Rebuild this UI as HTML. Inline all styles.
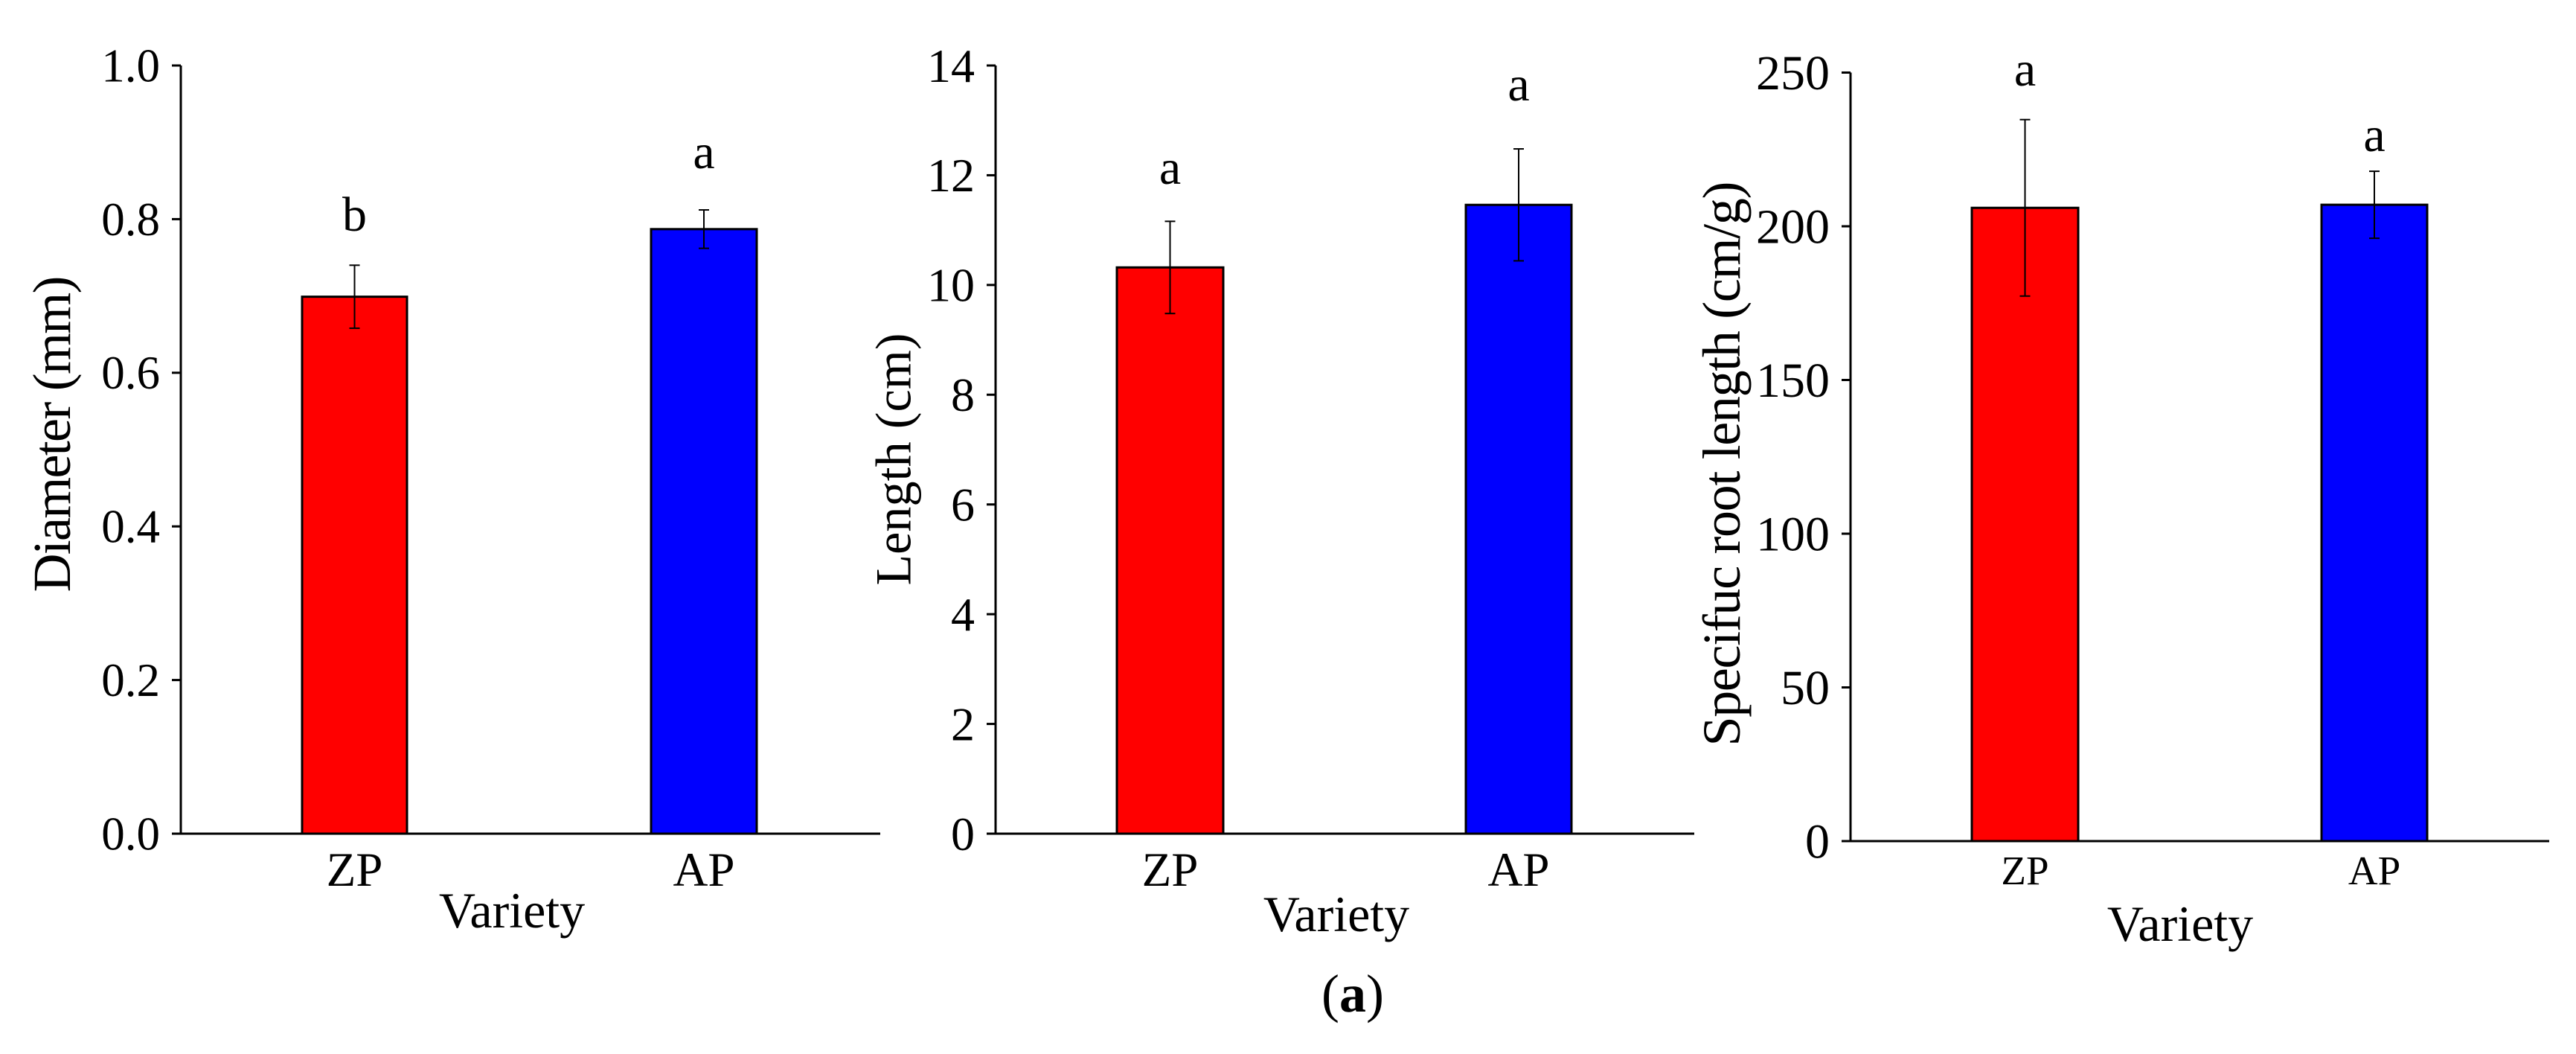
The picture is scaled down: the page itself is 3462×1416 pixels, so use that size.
<!DOCTYPE html>
<html><head><meta charset="utf-8"><style>
html,body{margin:0;padding:0;background:#fff;}
svg, svg text{font-family:"Liberation Serif","Times New Roman",serif;}
svg{display:block;}
</style></head><body>
<svg id="fig" width="3462" height="1416" viewBox="0 0 3462 1416" xmlns="http://www.w3.org/2000/svg" font-family="Liberation Serif, serif">
<rect width="3462" height="1416" fill="#fff"/>
<text x="1818" y="1359" font-size="72" text-anchor="middle" font-family="Liberation Serif, serif">(<tspan font-weight="bold">a</tspan>)</text>
</svg>
<script>
const categories = ["ZP", "AP"];
const colors = ["#ff0000", "#0000ff"];
const diameterValues = [0.699, 0.787];
const diameterErrors = [0.041, 0.025];
const diameterLetters = ["b", "a"];
const diameterTicks = ["0.0", "0.2", "0.4", "0.6", "0.8", "1.0"];
const lengthValues = [10.32, 11.46];
const lengthErrors = [0.84, 1.02];
const lengthLetters = ["a", "a"];
const lengthTicks = ["0", "2", "4", "6", "8", "10", "12", "14"];
const srlValues = [206, 207];
const srlErrors = [28.7, 10.9];
const srlLetters = ["a", "a"];
const srlTicks = ["0", "50", "100", "150", "200", "250"];

const NS = "http://www.w3.org/2000/svg";
const svg = document.getElementById("fig");
function mk(tag, attrs, parent, text) {
  const e = document.createElementNS(NS, tag);
  for (const k in attrs) e.setAttribute(k, attrs[k]);
  if (tag === "text") e.setAttribute("font-family", "Liberation Serif, serif");
  if (text !== undefined) e.textContent = text;
  (parent || svg).appendChild(e);
  return e;
}

const panels = [
  {key:"diameter", vals:diameterValues, errs:diameterErrors, letters:diameterLetters, ticks:diameterTicks, max:1.0,
   ax:243, top:88, bot:1120, xend:1183, bars:[[406,547],[875,1017]], tickFs:63, catFs:65, catY:1190,
   letY:[310,226], ylabel:"Diameter (mm)", ylx:70, yly:583, ylLen:425, ylFs:72, varX:688, varY:1246},
  {key:"length", vals:lengthValues, errs:lengthErrors, letters:lengthLetters, ticks:lengthTicks, max:14,
   ax:1338, top:88, bot:1120, xend:2277, bars:[[1501,1644],[1970,2112]], tickFs:64, catFs:65, catY:1190,
   letY:[247,135], ylabel:"Length (cm)", ylx:1201, yly:617, ylLen:339, ylFs:68, varX:1796, varY:1251},
  {key:"srl", vals:srlValues, errs:srlErrors, letters:srlLetters, ticks:srlTicks, max:250,
   ax:2487, top:97.5, bot:1130, xend:3426, bars:[[2650,2793],[3120,3262]], tickFs:66, catFs:55, catY:1188,
   letY:[115,203], ylabel:"Specifuc root length (cm/g)", ylx:2314, yly:623, ylLen:759, ylFs:72, varX:2930, varY:1264}
];

panels.forEach(p => {
  const g = mk("g", {});
  
  
  const y = v => p.bot - (v / p.max) * (p.bot - p.top);
  p.vals.forEach((v, i) => {
    const [x0, x1] = p.bars[i];
    const r = mk("rect", {x:x0, y:y(v), width:x1-x0, height:p.bot-y(v), fill:colors[i], stroke:"#000", "stroke-width":3}, g);
    
    
    const cx = (x0 + x1) / 2;
    const eg = mk("g", {stroke:"#000", "stroke-width":2}, g);
    
    
    const e = p.errs[i];
    mk("line", {x1:cx, x2:cx, y1:y(v+e), y2:y(v-e)}, eg);
    mk("line", {x1:cx-7, x2:cx+7, y1:y(v+e), y2:y(v+e)}, eg);
    mk("line", {x1:cx-7, x2:cx+7, y1:y(v-e), y2:y(v-e)}, eg);
    const lt = mk("text", {x:cx, y:p.letY[i], "font-size":66, "text-anchor":"middle"}, g, p.letters[i]);
    
    
    const ct = mk("text", {x:cx, y:p.catY, "font-size":p.catFs, "text-anchor":"middle"}, g, categories[i]);
    
    
  });
  const ya = mk("line", {x1:p.ax, x2:p.ax, y1:p.top, y2:p.bot, stroke:"#000", "stroke-width":3}, g);
  
  
  const xa = mk("line", {x1:p.ax, x2:p.xend, y1:p.bot, y2:p.bot, stroke:"#000", "stroke-width":3}, g);
  
  
  const step = p.max / (p.ticks.length - 1);
  p.ticks.forEach((t, i) => {
    const ty = y(i * step);
    const tl = mk("line", {x1:p.ax-12, x2:p.ax, y1:ty, y2:ty, stroke:"#000", "stroke-width":3}, g);
    
    
    const tt = mk("text", {x:p.ax-28, y:ty+p.tickFs*0.34, "font-size":p.tickFs, "text-anchor":"end"}, g, t);
    
    
  });
  const yl = mk("text", {x:0, y:0, "font-size":p.ylFs, "text-anchor":"middle", textLength:p.ylLen, lengthAdjust:"spacing",
    transform:`translate(${p.ylx + p.ylFs*0.33},${p.yly}) rotate(-90)`}, g, p.ylabel);
  
  
  const xl = mk("text", {x:p.varX, y:p.varY, "font-size":68, "text-anchor":"middle"}, g, "Variety");
  
  
});
</script>
</body></html>
